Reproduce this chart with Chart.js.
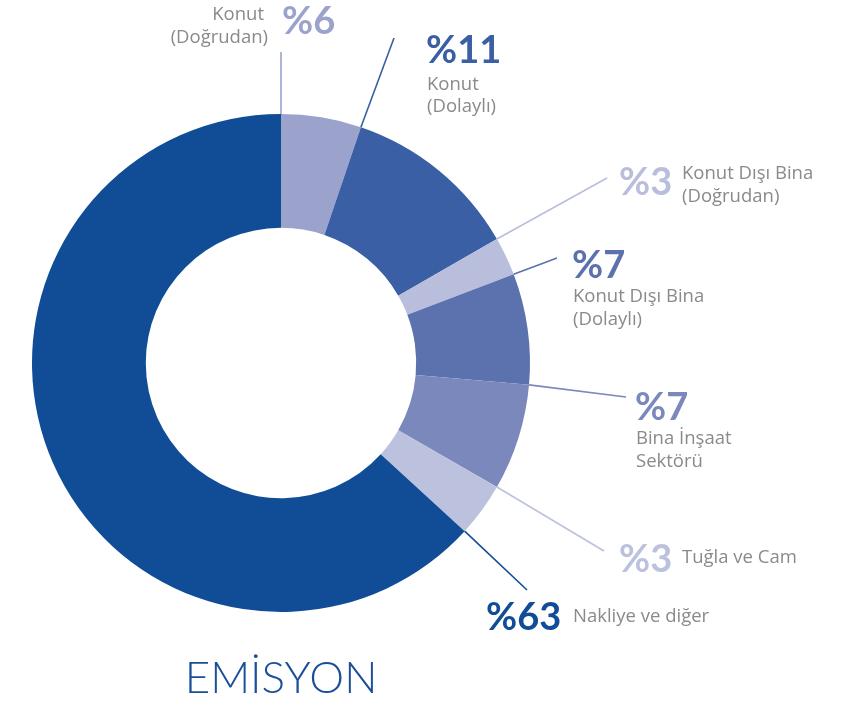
<!DOCTYPE html>
<html>
<head>
<meta charset="utf-8">
<script src="https://cdn.jsdelivr.net/npm/chart.js@4.4.1/dist/chart.umd.min.js"></script>
<style>
  html, body { margin: 0; padding: 0; background: #fff; }
  #wrap { position: relative; width: 843px; height: 707px; }
</style>
</head>
<body>
<div id="wrap"><canvas id="myChart" width="843" height="707"></canvas></div>
<script>
// data
const categories = ['Konut (Doğrudan)', 'Konut (Dolaylı)', 'Konut Dışı Bina (Doğrudan)', 'Konut Dışı Bina (Dolaylı)', 'Bina İnşaat Sektörü', 'Tuğla ve Cam', 'Nakliye ve diğer'];
const shares = [5.2, 11.5, 2.5, 7.2, 6.9, 3.5, 63.2];
const pctLabels = ['%6', '%11', '%3', '%7', '%7', '%3', '%63'];
const colors = ['#9ba3cd', '#3a5fa4', '#b9bedd', '#5c72ae', '#7b88bc', '#bcc1de', '#104d96'];

// label layout: leader line end, percent text pos, caption lines
const layout = [
  { end: [281, 52], pct: [282, 22], text: [[264, 15, 'Konut', 'right'], [268, 38, '(Doğrudan)', 'right']] },
  { end: [394, 38], pct: [426, 51], text: [[427, 85, 'Konut'], [427, 107, '(Dolaylı)']] },
  { end: [607, 178], pct: [619, 183], text: [[682, 174, 'Konut Dışı Bina'], [682, 197, '(Doğrudan)']] },
  { end: [557, 258], pct: [572, 266], text: [[573, 297, 'Konut Dışı Bina'], [573, 320, '(Dolaylı)']] },
  { end: [626, 397], pct: [635, 408], text: [[636, 439, 'Bina İnşaat'], [636, 462, 'Sektörü']] },
  { end: [604, 551], pct: [619, 560], text: [[682, 558, 'Tuğla ve Cam']] },
  { end: [527, 590], pct: [486, 618], text: [[573, 617, 'Nakliye ve diğer']] }
];

const labelPlugin = {
  id: 'labels',
  afterDraw(chart) {
    const c = chart.ctx;
    const arcs = chart.getDatasetMeta(0).data;
    c.save();
    arcs.forEach((arc, i) => {
      const a = arc.startAngle;
      const r = arc.outerRadius;
      const sx = arc.x + Math.cos(a) * r;
      const sy = arc.y + Math.sin(a) * r;
      const L = layout[i];
      c.strokeStyle = colors[i];
      c.lineWidth = 1.6;
      c.beginPath();
      c.moveTo(sx, sy);
      c.lineTo(L.end[0], L.end[1]);
      c.stroke();

      c.fillStyle = colors[i];
      c.font = 'bold 38px Lato';
      c.textBaseline = 'middle';
      c.textAlign = 'left';
      c.fillText(pctLabels[i], L.pct[0], L.pct[1]);

      c.fillStyle = '#8a8a8a';
      c.font = '18.5px "Open Sans"';
      L.text.forEach(t => {
        c.textAlign = t[3] || 'left';
        c.fillText(t[2], t[0], t[1]);
      });
    });
    c.fillStyle = '#1a4f98';
    c.font = '300 44px Lato';
    c.textAlign = 'center';
    c.fillText('EMİSYON', 281, 679);
    c.restore();
  }
};

const ctx = document.getElementById('myChart').getContext('2d');
const myChart = new Chart(ctx, {
    type: 'doughnut',
    data: {
        labels: categories,
        datasets: [{
            data: shares,
            backgroundColor: colors,
            borderWidth: 0
        }]
    },
    options: {
        responsive: false,
        animation: false,
        cutout: '54.3%',
        layout: {
            padding: { left: 32, right: 313, top: 114, bottom: 95 }
        },
        plugins: {
            legend: { display: false },
            tooltip: { enabled: false }
        }
    },
    plugins: [labelPlugin]
});
</script>
</body>
</html>
